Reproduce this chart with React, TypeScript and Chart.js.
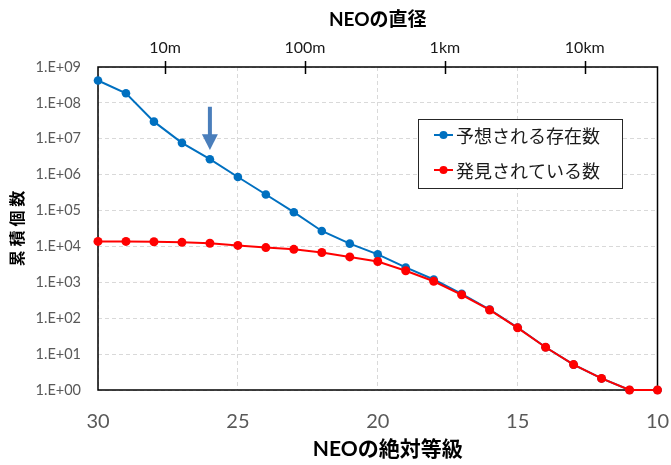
import { useEffect, useRef } from 'react';
import { Chart, registerables } from 'chart.js';

Chart.register(...registerables);

// ---- data ----
const magnitudes = [30, 29, 28, 27, 26, 25, 24, 23, 22, 21, 20, 19, 18, 17, 16, 15, 14, 13, 12, 11, 10];
const predicted = [4.2e8, 1.85e8, 3.0e7, 7.7e6, 2.7e6, 8.6e5, 2.8e5, 9.0e4, 2.7e4, 1.2e4, 6.0e3, 2.6e3, 1.2e3, 480, 175, 55, 15.5, 5.1, 2.1, 1, 1];
const discovered = [1.38e4, 1.38e4, 1.35e4, 1.3e4, 1.23e4, 1.07e4, 9.3e3, 8.3e3, 6.8e3, 5.1e3, 3.8e3, 2.1e3, 1.07e3, 450, 170, 54, 15.5, 5.1, 2.1, 1, 1];
const seriesLabels = ['予想される存在数', '発見されている数'];
const seriesColors = ['#0070C0', '#FF0000'];
const yTickValues = [1, 1e1, 1e2, 1e3, 1e4, 1e5, 1e6, 1e7, 1e8, 1e9];
const xTickValues = [30, 25, 20, 15, 10];
const diameterTickPositions = [27.6, 22.6, 17.6, 12.6];
const diameterTickLabels = ['10m', '100m', '1km', '10km'];
const axisTitles = { y: '累 積 個 数', x: 'NEOの絶対等級', top: 'NEOの直径' };
const arrowMagnitude = 26;
const arrowTopValue = 7.8e7;
const arrowHeadBaseValue = 1.33e7;
const arrowTipValue = 4.9e6;

const LATIN = 'Lato';
const CJK = "'Noto Sans CJK JP'";
const MIXED = `${LATIN}, ${CJK}, sans-serif`;

const formatExp = (v: number) => {
  const e = Math.round(Math.log10(v));
  return `1.E+${String(e).padStart(2, '0')}`;
};

const noSidePadding = (s: any) => {
  s.paddingLeft = 0;
  s.paddingRight = 0;
};

const decorPlugin = {
  id: 'decor',
  beforeDatasetsDraw(chart: any) {
    const { ctx, chartArea: a, scales } = chart;
    ctx.save();
    ctx.strokeStyle = '#000';
    ctx.lineWidth = 1.5;
    ctx.strokeRect(a.left, a.top, a.right - a.left, a.bottom - a.top);
    const x2 = scales.x2;
    ctx.beginPath();
    x2.ticks.forEach((t: any) => {
      const px = Math.round(x2.getPixelForValue(t.value)) + 0.5;
      ctx.moveTo(px, a.top - 6);
      ctx.lineTo(px, a.top + 7);
    });
    ctx.stroke();
    ctx.restore();
  },
  afterDatasetsDraw(chart: any) {
    const { ctx, scales } = chart;
    const x = scales.x.getPixelForValue(arrowMagnitude);
    const yTop = scales.y.getPixelForValue(arrowTopValue);
    const yBase = scales.y.getPixelForValue(arrowHeadBaseValue);
    const yTip = scales.y.getPixelForValue(arrowTipValue);
    ctx.save();
    ctx.fillStyle = '#4A7EBB';
    ctx.fillRect(x - 2, yTop, 4, yBase - yTop + 1);
    ctx.beginPath();
    ctx.moveTo(x - 8, yBase);
    ctx.lineTo(x + 8, yBase);
    ctx.lineTo(x, yTip);
    ctx.closePath();
    ctx.fill();
    ctx.restore();
  },
  afterDraw(chart: any) {
    const { ctx, chartArea: a } = chart;
    ctx.save();
    // legend
    const bx = 418, by = 119, bw = 204, bh = 69;
    ctx.fillStyle = '#fff';
    ctx.fillRect(bx, by, bw, bh);
    ctx.strokeStyle = '#262626';
    ctx.lineWidth = 1;
    ctx.strokeRect(bx + 0.5, by + 0.5, bw, bh);
    const rows = [135, 170];
    chart.data.datasets.forEach((ds: any, i: number) => {
      const y = rows[i];
      ctx.strokeStyle = ds.borderColor;
      ctx.lineWidth = 2;
      ctx.beginPath();
      ctx.moveTo(434, y);
      ctx.lineTo(453, y);
      ctx.stroke();
      ctx.fillStyle = ds.borderColor;
      ctx.beginPath();
      ctx.arc(443.5, y, 4, 0, Math.PI * 2);
      ctx.fill();
      ctx.fillStyle = '#1a1a1a';
      ctx.font = `18px ${CJK}`;
      ctx.textAlign = 'left';
      ctx.textBaseline = 'middle';
      ctx.fillText(ds.label, 456, y + 1);
    });
    // bottom axis title
    ctx.fillStyle = '#000';
    ctx.font = `bold 21px ${MIXED}`;
    ctx.textAlign = 'center';
    ctx.textBaseline = 'middle';
    ctx.fillText(axisTitles.x, (a.left + a.right) / 2 + 10, 449);
    ctx.restore();
  },
};

export default function App() {
  const ref = useRef<HTMLCanvasElement | null>(null);

  useEffect(() => {
    if (!ref.current) return;
    const chart = new Chart(ref.current, {
      type: 'line',
      data: {
        datasets: [
          {
            label: seriesLabels[0],
            data: magnitudes.map((m, i) => ({ x: m, y: predicted[i] })),
            borderColor: seriesColors[0],
            backgroundColor: seriesColors[0],
            borderWidth: 2,
            pointRadius: 4.3,
            pointBorderWidth: 0,
            tension: 0,
            clip: false as any,
            order: 2,
          },
          {
            label: seriesLabels[1],
            data: magnitudes.map((m, i) => ({ x: m, y: discovered[i] })),
            borderColor: seriesColors[1],
            backgroundColor: seriesColors[1],
            borderWidth: 2,
            pointRadius: 4.5,
            pointBorderWidth: 0,
            tension: 0,
            clip: false as any,
            order: 1,
          },
        ],
      },
      options: {
        animation: false,
        responsive: true,
        maintainAspectRatio: false,
        layout: { padding: { left: 0, right: 13.5, top: 0, bottom: 0 } },
        plugins: { legend: { display: false }, tooltip: { enabled: false } },
        scales: {
          x: {
            type: 'linear',
            position: 'bottom',
            min: 10,
            max: 30,
            reverse: true,
            afterBuildTicks: (s: any) => { s.ticks = xTickValues.map((v) => ({ value: v })); },
            afterFit: (s: any) => { s.height = 75; noSidePadding(s); },
            ticks: {
              padding: 20,
              color: '#595959',
              font: { family: LATIN, size: 20 },
              callback: (v: any) => String(v),
            },
            grid: { color: '#d9d9d9', lineWidth: 1, drawTicks: false },
            border: { display: false, dash: [4, 3] },
          },
          x2: {
            type: 'linear',
            position: 'top',
            min: 10,
            max: 30,
            reverse: true,
            afterBuildTicks: (s: any) => { s.ticks = diameterTickPositions.map((v) => ({ value: v })); },
            afterFit: (s: any) => { s.height = 67; noSidePadding(s); },
            ticks: {
              padding: 10,
              color: '#1a1a1a',
              font: { family: LATIN, size: 16 },
              callback: (_v: any, i: number) => diameterTickLabels[i],
            },
            grid: { display: false, drawTicks: false, drawOnChartArea: false },
            border: { display: false },
            title: {
              display: true,
              text: axisTitles.top,
              color: '#000',
              font: { family: MIXED, size: 19, weight: 'bold' },
              padding: { top: 8.6, bottom: 0 },
            },
          },
          y: {
            type: 'logarithmic',
            position: 'left',
            min: 1,
            max: 1e9,
            afterBuildTicks: (s: any) => { s.ticks = yTickValues.map((v) => ({ value: v })); },
            afterFit: (s: any) => { s.width = 98; s.paddingTop = 0; s.paddingBottom = 0; },
            ticks: {
              padding: 17,
              color: '#595959',
              font: { family: LATIN, size: 14.5 },
              callback: (v: any) => formatExp(Number(v)),
            },
            grid: { color: '#d9d9d9', lineWidth: 1, drawTicks: false },
            border: { display: false, dash: [4, 3] },
            title: {
              display: true,
              text: axisTitles.y,
              color: '#000',
              font: { family: MIXED, size: 16, weight: 'bold' },
              padding: { top: 8.4, bottom: 0 },
            },
          },
        },
      },
      plugins: [decorPlugin],
    } as any);
    return () => chart.destroy();
  }, []);

  return (
    <div style={{ position: 'fixed', left: 0, top: 0, width: 671, height: 465, background: '#fff' }}>
      <canvas ref={ref} />
    </div>
  );
}
